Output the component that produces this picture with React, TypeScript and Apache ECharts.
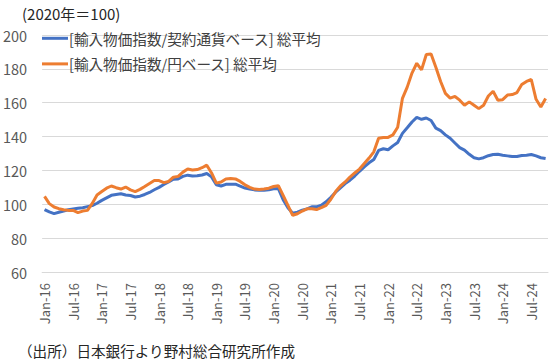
import React, { useEffect, useRef } from "react";
import * as echarts from "echarts";

const MONTHS = ["Jan", "Feb", "Mar", "Apr", "May", "Jun", "Jul", "Aug", "Sep", "Oct", "Nov", "Dec"];
const categories: string[] = [];
for (let y = 16; y <= 24; y++) {
  for (let m = 0; m < 12; m++) {
    if (y === 24 && m > 9) break;
    categories.push(`${MONTHS[m]}-${y}`);
  }
}

const contractCurrency = [
  96.9, 95.5, 94.5, 95.3, 96.0, 96.8, 97.2, 97.6, 98.0, 98.6, 99.2, 100.6,
  102.3, 103.8, 105.3, 105.8, 106.2, 105.5, 105.2, 104.3, 104.8, 105.8, 107.0, 108.6,
  110.0, 111.7, 113.2, 114.8, 115.0, 116.5, 117.2, 116.7, 116.8, 117.3, 118.2, 116.2,
  111.5, 110.8, 111.8, 111.9, 111.9, 110.7, 109.6, 109.0, 108.5, 108.3, 108.3, 108.6,
  109.2, 109.3, 102.7, 98.0, 94.7, 95.3, 96.5, 97.3, 98.5, 98.5, 99.5, 101.5,
  104.1, 107.1, 109.7, 112.2, 114.2, 116.7, 119.5, 122.1, 124.5, 126.5, 131.8, 132.8,
  132.2, 134.5, 136.5, 141.9, 145.2, 148.6, 151.3, 150.2, 151.0, 149.5, 145.0, 143.5,
  141.0, 139.0, 136.2, 133.5, 132.0, 129.5, 127.5, 126.8, 127.5, 128.7, 129.4, 129.5,
  129.0, 128.6, 128.2, 128.2, 128.8, 129.0, 129.4, 128.6, 127.5, 127.0,
];

const yenBasis = [
  104.7, 100.4, 98.4, 97.4, 96.8, 96.4, 96.4, 95.1, 96.0, 96.4, 100.5, 105.5,
  107.5, 109.5, 110.8, 109.8, 109.0, 110.2, 108.5, 107.5, 108.8, 110.5, 112.3, 114.0,
  114.0, 112.8, 113.5, 116.0, 116.5, 119.0, 120.8, 120.2, 120.5, 121.6, 123.1, 118.5,
  112.5, 113.2, 115.0, 115.2, 115.0, 113.5, 111.5, 110.0, 109.0, 108.7, 109.0, 109.5,
  110.5, 111.0, 105.3, 99.4, 93.5, 94.4, 96.0, 97.3, 97.3, 96.9, 98.0, 99.4,
  103.0, 107.5, 110.8, 113.2, 116.1, 118.5, 120.8, 124.1, 127.3, 131.0, 139.0, 139.5,
  139.5, 141.0, 145.5, 162.6, 169.2, 177.5, 183.3, 179.4, 188.5, 188.8, 181.0, 172.5,
  165.5, 162.7, 163.7, 161.5, 158.5, 160.5, 158.5, 156.5, 158.5, 164.0, 166.8, 161.5,
  161.8, 164.5, 164.8, 166.0, 170.7, 172.6, 173.7, 162.0, 157.5, 162.5,
];

const seriesNames = ["[輸入物価指数/契約通貨ベース] 総平均", "[輸入物価指数/円ベース] 総平均"];
const yMin = 60;
const yMax = 200;
const yStep = 20;

const FONT = "'Noto Sans CJK JP', 'Noto Sans', sans-serif";

export default function App() {
  const ref = useRef<HTMLDivElement>(null);
  useEffect(() => {
    if (!ref.current) return;
    const chart = echarts.init(ref.current, null, { renderer: "svg" });
    chart.setOption({
      animation: false,
      backgroundColor: "#ffffff",
      textStyle: { fontFamily: FONT },
      grid: { left: 40, right: 5, top: 35, bottom: 87, containLabel: false },
      graphic: [
        {
          type: "text",
          x: 22,
          y: 13,
          style: {
            text: "(2020年＝100)",
            fontSize: 15,
            fill: "#262626",
            fontFamily: FONT,
            textVerticalAlign: "middle",
            verticalAlign: "middle",
          },
        },
        {
          type: "text",
          x: 18,
          y: 350,
          style: {
            text: "（出所）日本銀行より野村総合研究所作成",
            fontSize: 14.6,
            fill: "#262626",
            fontFamily: FONT,
            textVerticalAlign: "middle",
            verticalAlign: "middle",
          },
        },
      ],
      legend: {
        orient: "vertical",
        left: 37,
        top: 26,
        itemWidth: 26,
        itemHeight: 3,
        itemGap: 11,
        icon: "rect",
        textStyle: { fontSize: 14.6, color: "#404040", fontFamily: FONT, padding: [0, 0, 0, -4] },
        data: seriesNames,
      },
      xAxis: {
        type: "category",
        data: categories,
        boundaryGap: true,
        axisLine: { show: true, lineStyle: { color: "#d9d9d9" } },
        axisTick: { show: false },
        axisLabel: {
          interval: 5,
          rotate: 90,
          fontSize: 13,
          color: "#595959",
          margin: 11,
          fontFamily: FONT,
        },
      },
      yAxis: {
        type: "value",
        min: yMin,
        max: yMax,
        interval: yStep,
        axisLine: { show: false },
        axisTick: { show: false },
        axisLabel: { fontSize: 14.5, color: "#595959", margin: 15, fontFamily: FONT },
        splitLine: { lineStyle: { color: "#d9d9d9", width: 1 } },
      },
      series: [
        {
          name: seriesNames[0],
          type: "line",
          data: contractCurrency,
          symbol: "none",
          lineStyle: { color: "#4472C4", width: 3 },
          itemStyle: { color: "#4472C4" },
        },
        {
          name: seriesNames[1],
          type: "line",
          data: yenBasis,
          symbol: "none",
          lineStyle: { color: "#ED7D31", width: 3 },
          itemStyle: { color: "#ED7D31" },
        },
      ],
    });
    return () => chart.dispose();
  }, []);
  return <div ref={ref} style={{ width: 553, height: 359, position: "absolute", left: 0, top: 0 }} />;
}
